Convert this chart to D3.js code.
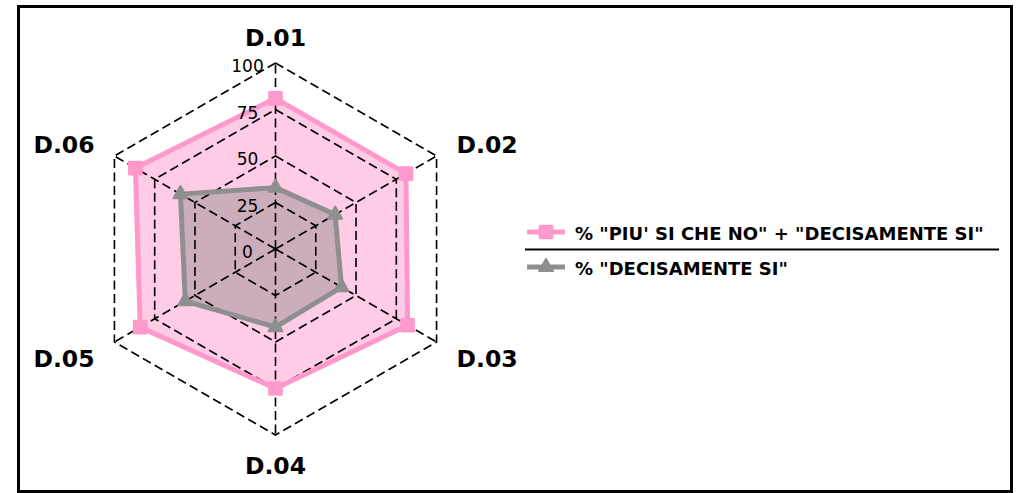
<!DOCTYPE html>
<html>
<head>
<meta charset="utf-8">
<title>radar</title>
<style>
  body { margin: 0; background: #fff; }
  svg { display: block; }
  text { font-family: "DejaVu Sans", sans-serif; fill: #000; }
</style>
<script src="https://cdn.jsdelivr.net/npm/d3@7"></script>
</head>
<body>
<script>
// data
const categories = ['D.01', 'D.02', 'D.03', 'D.04', 'D.05', 'D.06'];
const piuSiValues = [81, 81, 82, 75, 84, 87];
const decisamenteValues = [33, 37, 41, 42, 56, 59];
const radialTicks = [0, 25, 50, 75, 100];
const seriesNames = ['% "PIU\' SI CHE NO" + "DECISAMENTE SI"', '% "DECISAMENTE SI"'];

const width = 1021, height = 493;
const cx = 275.5, cy = 249;

const svg = d3.select('body').append('svg')
    .attr('width', width)
    .attr('height', height);

// frame
svg.append('rect')
    .attr('x', 18.5).attr('y', 6.5)
    .attr('width', 993).attr('height', 485)
    .attr('fill', 'none').attr('stroke', '#000').attr('stroke-width', 3);

const g = svg.append('g').attr('transform', `translate(${cx},${cy})`);

const r = d3.scaleLinear().domain([0, 100]).range([0, 186]);
const angle = d3.scalePoint().domain(categories).range([0, 2 * Math.PI * 5 / 6]);

const pt = (cat, v) => {
    const a = angle(cat);
    return [Math.sin(a) * r(v), -Math.cos(a) * r(v)];
};

const radial = d3.lineRadial()
    .angle((d, i) => angle(categories[i]))
    .radius(d => r(d))
    .curve(d3.curveLinearClosed);

const series = [
    { name: seriesNames[0], values: piuSiValues, line: '#ff99cc', fill: 'rgba(255,153,204,0.5)', symbol: d3.symbolSquare, size: 160 },
    { name: seriesNames[1], values: decisamenteValues, line: '#8f8f8f', fill: 'rgba(128,128,128,0.4)', symbol: d3.symbolTriangle, size: 85 }
];

// fills
series.forEach(s => {
    g.append('path')
        .attr('d', radial(s.values))
        .attr('fill', s.fill)
        .attr('stroke', 'none');
});

// grid
const grid = g.append('g')
    .attr('fill', 'none')
    .attr('stroke', '#000')
    .attr('stroke-width', 1.6)
    .attr('stroke-dasharray', '9,4.5');

radialTicks.filter(t => t > 0).forEach(t => {
    grid.append('path').attr('d', radial(categories.map(() => t)));
});
categories.forEach(c => {
    const p = pt(c, 100);
    grid.append('line').attr('x1', 0).attr('y1', 0).attr('x2', p[0]).attr('y2', p[1]);
});

// lines and markers
series.forEach(s => {
    g.append('path')
        .attr('d', radial(s.values))
        .attr('fill', 'none')
        .attr('stroke', s.line)
        .attr('stroke-width', 5)
        .attr('stroke-linejoin', 'round');
    g.selectAll(null)
        .data(s.values)
        .join('path')
        .attr('transform', (d, i) => `translate(${pt(categories[i], d)})`)
        .attr('d', d3.symbol().type(s.symbol).size(s.size))
        .attr('fill', s.line)
        .attr('stroke', s.line)
        .attr('stroke-width', 2)
        .attr('stroke-linejoin', 'round');
});

// radial tick labels
g.selectAll('.rtick')
    .data(radialTicks)
    .join('text')
    .attr('class', 'rtick')
    .attr('x', -28)
    .attr('y', d => -r(d) + 3)
    .attr('text-anchor', 'middle')
    .attr('dominant-baseline', 'central')
    .style('font-size', '17px')
    .text(d => d);

// category labels
g.selectAll('.cat')
    .data(categories)
    .join('text')
    .attr('class', 'cat')
    .attr('x', d => Math.sin(angle(d)) * 209)
    .attr('y', d => -Math.cos(angle(d)) * 214 + 2.5)
    .attr('text-anchor', d => {
        const s = Math.sin(angle(d));
        return Math.abs(s) < 0.01 ? 'middle' : (s > 0 ? 'start' : 'end');
    })
    .attr('dominant-baseline', 'central')
    .style('font-size', '23.5px')
    .style('font-weight', 'bold')
    .text(d => d);

// legend
const legend = svg.append('g').attr('transform', 'translate(527,0)');
const legendY = [232, 267];
series.forEach((s, i) => {
    const row = legend.append('g').attr('transform', `translate(0,${legendY[i]})`);
    row.append('line')
        .attr('x1', 0).attr('x2', 38)
        .attr('stroke', s.line).attr('stroke-width', 5);
    row.append('path')
        .attr('transform', 'translate(19,0)')
        .attr('d', d3.symbol().type(s.symbol).size(s.size))
        .attr('fill', s.line).attr('stroke', s.line)
        .attr('stroke-width', 2).attr('stroke-linejoin', 'round');
    row.append('text')
        .attr('x', 48)
        .attr('y', 1)
        .attr('dominant-baseline', 'central')
        .style('font-size', '18px')
        .style('font-weight', 'bold')
        .text(s.name);
});
legend.append('line')
    .attr('x1', -2).attr('x2', 472)
    .attr('y1', 249.5).attr('y2', 249.5)
    .attr('stroke', '#000').attr('stroke-width', 2);
</script>
</body>
</html>
